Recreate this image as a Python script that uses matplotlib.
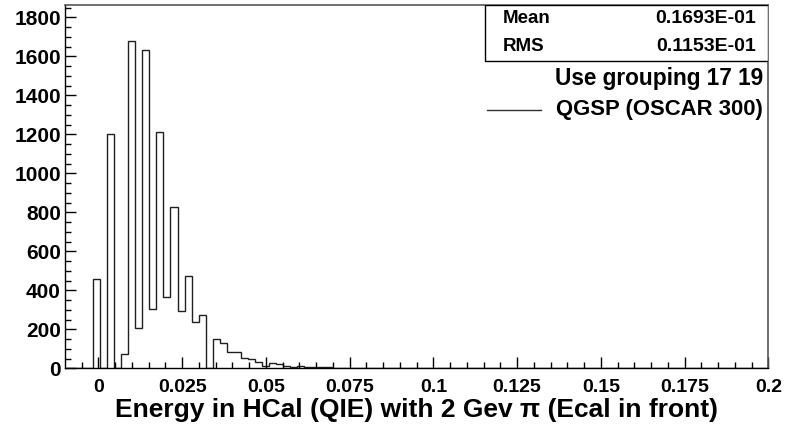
import matplotlib
matplotlib.use("Agg")
import matplotlib.pyplot as plt
from matplotlib.patches import Rectangle
import numpy as np

# histogram definition: 100 bins from -0.01 to 0.2
x_lo, x_hi, n_bins = -0.01, 0.2, 100
counts = [
    0, 0, 0, 0, 460, 0, 1200, 0, 72, 1680,
    205, 1630, 302, 1210, 366, 829, 295, 475, 239, 273,
    0, 152, 131, 85, 82, 54, 46, 31, 14, 25,
    20, 14, 5, 10, 8, 8, 6, 5, 3, 3,
    2, 3, 2, 2, 1, 2, 1, 1, 0, 1,
    0, 1, 0, 0, 0, 0, 0, 0, 0, 0,
    0, 0, 0, 0, 0, 0, 0, 0, 0, 0,
    0, 0, 0, 0, 0, 0, 0, 0, 0, 0,
    0, 0, 0, 0, 0, 0, 0, 0, 0, 0,
    0, 0, 0, 0, 0, 0, 0, 0, 0, 0,
]
x_ticks = [0, 0.025, 0.05, 0.075, 0.1, 0.125, 0.15, 0.175, 0.2]
x_tick_labels = ["0", "0.025", "0.05", "0.075", "0.1", "0.125", "0.15", "0.175", "0.2"]
y_ticks = [0, 200, 400, 600, 800, 1000, 1200, 1400, 1600, 1800]
stats = [("Mean", "0.1693E-01"), ("RMS", "0.1153E-01")]
note = "Use grouping 17 19"
series_label = "QGSP (OSCAR 300)"
xlabel = "Energy in HCal (QIE) with 2 Gev \u03c0 (Ecal in front)"

plt.rcParams["font.family"] = ["Liberation Sans", "DejaVu Sans"]
plt.rcParams["font.weight"] = "bold"

fig = plt.figure(figsize=(7.87, 4.30), dpi=100)
ax = fig.add_axes([0.0826, 0.1435, 0.8936, 0.8449])

edges = np.linspace(x_lo, x_hi, n_bins + 1)
ax.stairs(counts, edges, baseline=0, color="#202020", linewidth=1.0)

ax.set_xlim(x_lo, x_hi)
ax.set_ylim(0, 1863)
ax.set_xticks(x_ticks)
ax.set_xticklabels(x_tick_labels)
ax.set_xticks(np.arange(-0.005, 0.2001, 0.005), minor=True)
ax.set_yticks(y_ticks)
ax.set_yticks(np.arange(0, 1851, 50), minor=True)
ax.tick_params(axis="both", which="both", direction="in", top=False, right=False, color="black")
ax.tick_params(axis="both", which="major", length=8, width=1)
ax.tick_params(axis="both", which="minor", length=4.3, width=1)
ax.tick_params(axis="x", which="major", labelsize=14, pad=8)
ax.tick_params(axis="y", which="major", labelsize=15, pad=3)
for lab in ax.get_xticklabels() + ax.get_yticklabels():
    lab.set_fontweight("bold")

for side in ("left", "bottom"):
    ax.spines[side].set_color("black")
    ax.spines[side].set_linewidth(1.0)
for side in ("top", "right"):
    ax.spines[side].set_color("#555555")
    ax.spines[side].set_linewidth(1.2)

# axis title placed like ROOT's, centred under the frame
fig.text(0.529, 1 - 410 / 430, xlabel, fontsize=19, fontweight="bold",
         ha="center", va="center")

# stats box
ax.add_patch(Rectangle((0.597, 0.846), 0.403, 0.154, transform=ax.transAxes,
                       facecolor="white", edgecolor="black", linewidth=1.0, zorder=3))
for (name, val), yy in zip(stats, [0.9615, 0.8844]):
    ax.text(0.623, yy, name, transform=ax.transAxes, fontsize=13.5, fontweight="bold",
            ha="left", va="center", zorder=4)
    ax.text(0.982, yy, val, transform=ax.transAxes, fontsize=14, fontweight="bold",
            ha="right", va="center", zorder=4)

ax.text(0.9925, 0.799, note, transform=ax.transAxes, fontsize=16.3, fontweight="bold",
        ha="right", va="center")
ax.text(0.9925, 0.711, series_label, transform=ax.transAxes, fontsize=15.9, fontweight="bold",
        ha="right", va="center")
ax.plot([0.6, 0.677], [0.711, 0.711], transform=ax.transAxes, color="#303030", linewidth=1.0)

fig.savefig("out.png", dpi=100)
